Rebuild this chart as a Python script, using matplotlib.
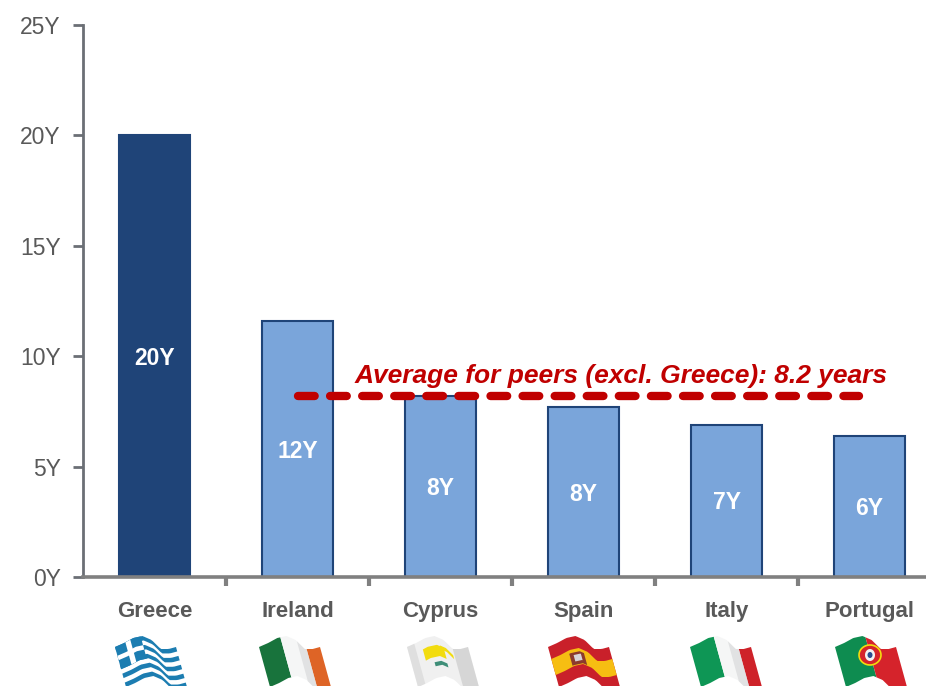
import numpy as np
import matplotlib
matplotlib.use('Agg')
import matplotlib.pyplot as plt

plt.rcParams['font.family'] = ['Liberation Sans', 'DejaVu Sans']

countries = ['Greece', 'Ireland', 'Cyprus', 'Spain', 'Italy', 'Portugal']
values = [20, 11.6, 8.2, 7.7, 6.9, 6.4]
bar_labels = ['20Y', '12Y', '8Y', '8Y', '7Y', '6Y']
bar_colors = ['#1F4478', '#7AA5DA', '#7AA5DA', '#7AA5DA', '#7AA5DA', '#7AA5DA']
y_ticks = [0, 5, 10, 15, 20, 25]
y_tick_labels = ['0Y', '5Y', '10Y', '15Y', '20Y', '25Y']
average = 8.2
average_text = 'Average for peers (excl. Greece): 8.2 years'

W, H = 926, 686
fig = plt.figure(figsize=(W / 100, H / 100), dpi=100)
# axes runs past the right edge, the last category gets cut like the original
ax = fig.add_axes([83 / W, 1 - 577 / H, 858 / W, 552 / H])
ax.patch.set_alpha(0)

x = np.arange(len(countries))
ax.bar(x, values, width=0.5, color=bar_colors, edgecolor='#1F4478', linewidth=1.5, zorder=2)
for i in range(len(x)):
    ax.annotate(bar_labels[i], (x[i], values[i] / 2), xytext=(0, -1.5), textcoords='offset points',
                color='white', fontsize=16.5, fontweight='bold', ha='center', va='center', zorder=3)

ax.plot([1, 4.93], [average, average], color='#C00000', linewidth=6, linestyle=(0, (2, 1.85)),
        dash_capstyle='round', zorder=4)
ax.text(3.26, 9.11, average_text, color='#C00000', fontsize=19, fontweight='bold', fontstyle='italic',
        ha='center', va='center', zorder=4)

ax.set_xlim(-0.5, 5.5)
ax.set_ylim(0, 25)
ax.set_yticks(y_ticks)
ax.set_yticklabels(y_tick_labels, fontsize=16.5, color='#595959')
ax.set_xticks(x + 0.5)
ax.set_xticklabels([])
ax.tick_params(axis='y', length=7, width=2, color='#6B6F75', pad=9)
ax.tick_params(axis='x', length=6.5, width=3, color='#808080')
for s in ['top', 'right']:
    ax.spines[s].set_visible(False)
ax.spines['left'].set_color('#6B6F75')
ax.spines['left'].set_linewidth(2)
ax.spines['bottom'].set_color('#808080')
ax.spines['bottom'].set_linewidth(2.6)
ax.spines['bottom'].set_zorder(5)

for i in range(len(x)):
    ax.annotate(countries[i], (x[i], 0), xytext=(0, -24.5), textcoords='offset points', color='#595959',
                fontsize=16, fontweight='bold', ha='center', va='center', annotation_clip=False)

# overlay in pixel coords for the little waving flags
ov = fig.add_axes([0, 0, 1, 1])
ov.set_xlim(0, W)
ov.set_ylim(H, 0)
ov.axis('off')
ov.patch.set_alpha(0)

wave_u = [0, 0.15, 0.3, 0.45, 0.6, 0.75, 0.88, 1]
wave_y = [11, 7, 2, 0, 4, 13, 13, 11]
flag_left = [115, 259, 407, 548, 690, 835]


def flag_xy(x0, u, v):
    # u along the flag, v down the flag (1 = 40 px)
    u = np.asarray(u, dtype=float)
    v = np.asarray(v, dtype=float)
    px = x0 + 61 * u + 11 * v
    py = 636 + np.interp(u, wave_u, wave_y) + 40 * v
    return px, py


def patch(x0, u0, u1, v0, v1, color, alpha=1):
    n = 30
    us = np.linspace(u0, u1, n)
    vs = np.linspace(v0, v1, n)
    px1, py1 = flag_xy(x0, us, np.full(n, v0))
    px2, py2 = flag_xy(x0, np.full(n, u1), vs)
    px3, py3 = flag_xy(x0, us[::-1], np.full(n, v1))
    px4, py4 = flag_xy(x0, np.full(n, u0), vs[::-1])
    ov.fill(np.r_[px1, px2, px3, px4], np.r_[py1, py2, py3, py4], color=color, alpha=alpha, lw=0)


def vertical(x0, colors, stops):
    for k in range(len(colors)):
        patch(x0, stops[k], stops[k + 1], 0, 1, colors[k])


# Greece
x0 = flag_left[0]
patch(x0, 0, 1, 0, 1, '#FFFFFF')
for k in range(9):
    if k % 2 == 0:
        patch(x0, 0, 1, k / 9, (k + 1) / 9, '#1C7DB1')
patch(x0, 0, 0.42, 0, 5 / 9, '#1C7DB1')
patch(x0, 0.17, 0.25, 0, 5 / 9, '#FFFFFF')
patch(x0, 0, 0.42, 0.22, 0.33, '#FFFFFF')
# Ireland
vertical(flag_left[1], ['#18733C', '#F5F6F6', '#DE6426'], [0, 0.35, 0.78, 1])
patch(flag_left[1], 0.62, 0.78, 0, 1, '#D9DADB', 0.7)
# Cyprus
x0 = flag_left[2]
vertical(x0, ['#F0F0F0'], [0, 1])
patch(x0, 0, 0.12, 0, 1, '#D4D4D4', 0.6)
patch(x0, 0.75, 1, 0, 1, '#BDBDBD', 0.5)
patch(x0, 0.22, 0.56, 0.22, 0.5, '#F2DC0F')
patch(x0, 0.5, 0.72, 0.2, 0.3, '#F2DC0F')
patch(x0, 0.34, 0.55, 0.62, 0.72, '#3E8E78')
# Spain
x0 = flag_left[3]
patch(x0, 0, 1, 0, 1, '#C9202A')
patch(x0, 0, 1, 0.3, 0.7, '#F6BE12')
patch(x0, 0.28, 0.52, 0.38, 0.68, '#8C3A2C')
patch(x0, 0.34, 0.46, 0.44, 0.6, '#D8D4D8')
# Italy
vertical(flag_left[4], ['#0E9655', '#F5F6F6', '#CE2229'], [0, 0.39, 0.8, 1])
patch(flag_left[4], 0.62, 0.8, 0, 1, '#D9DADB', 0.7)
# Portugal
x0 = flag_left[5]
vertical(x0, ['#0E8C50', '#D5232B'], [0, 0.5, 1])
th = np.linspace(0, 2 * np.pi, 40)
ov.fill(870 + 11 * np.cos(th), 655 + 10 * np.sin(th), facecolor='#D5232B', edgecolor='#F2DC0F', lw=1.2)
ov.fill(870 + 5 * np.cos(th), 655 + 6 * np.sin(th), color='#F2F2F2', lw=0)
ov.fill(870 + 2.5 * np.cos(th), 655 + 3 * np.sin(th), color='#2A4C90', lw=0)

fig.savefig('out.png', dpi=100)
